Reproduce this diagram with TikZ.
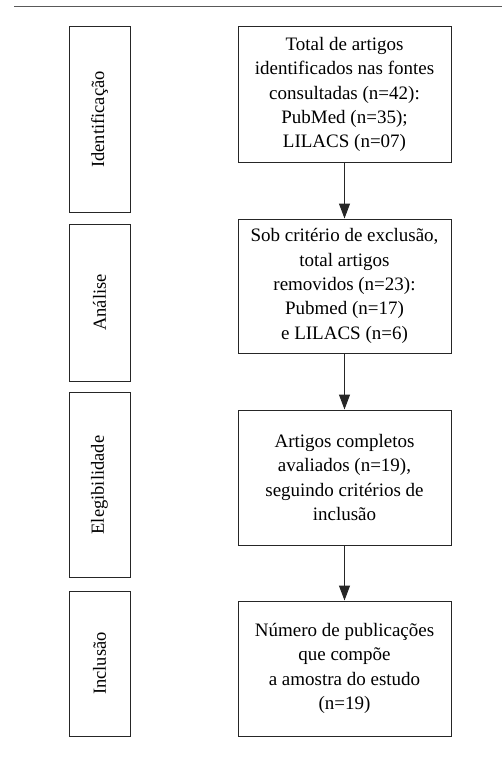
\documentclass[tikz,border=0pt]{standalone}
\usepackage{fontspec}
\setmainfont{Liberation Serif}
\usetikzlibrary{arrows.meta}
\begin{document}
\begin{tikzpicture}[x=1pt,y=-1pt,
  stagebox/.style={draw=black!85,line width=1pt,minimum width=61pt,inner sep=0pt},
  stagelabel/.style={rotate=90,font=\fontsize{18.5}{20}\selectfont},
  flowbox/.style={draw=black!85,line width=1pt,minimum width=213pt,inner sep=0pt,align=center,font=\fontsize{19}{24.3}\selectfont},
  flowarrow/.style={draw=black!85,line width=1pt,-{Triangle[length=15pt,width=11pt]}}]
\useasboundingbox (0,0) rectangle (502,757);
\draw[black!65,line width=1.5pt] (14,6.5) -- (502,6.5);
% left stage boxes
\node[stagebox,minimum height=185pt] (s1) at (99.5,119.5) {};
\node[stagelabel] (l1) at (s1.center) {Identificação};
\node[stagebox,minimum height=157pt] (s2) at (99.5,302.5) {};
\node[stagelabel] (l2) at (s2.center) {Análise};
\node[stagebox,minimum height=185pt] (s3) at (99.5,485) {};
\node[stagelabel] (l3) at (s3.center) {Elegibilidade};
\node[stagebox,minimum height=145pt] (s4) at (99.5,663.5) {};
\node[stagelabel] (l4) at (s4.center) {Inclusão};
% right flow boxes
\node[flowbox,minimum height=135pt] (b1) at (344.5,94.5) {Total de artigos\\identificados nas fontes\\consultadas (n=42):\\PubMed (n=35);\\LILACS (n=07)};
\node[flowbox,minimum height=134pt] (b2) at (344.5,286) {Sob critério de exclusão,\\total artigos\\removidos (n=23):\\Pubmed (n=17)\\e LILACS (n=6)};
\node[flowbox,minimum height=135pt] (b3) at (344.5,477.5) {Artigos completos\\avaliados (n=19),\\seguindo critérios de\\inclusão};
\node[flowbox,minimum height=135pt] (b4) at (344.5,668.5) {Número de publicações\\que compõe\\a amostra do estudo\\(n=19)};
\draw[flowarrow] (b1) -- (b2);
\draw[flowarrow] (b2) -- (b3);
\draw[flowarrow] (b3) -- (b4);
\end{tikzpicture}
\end{document}
